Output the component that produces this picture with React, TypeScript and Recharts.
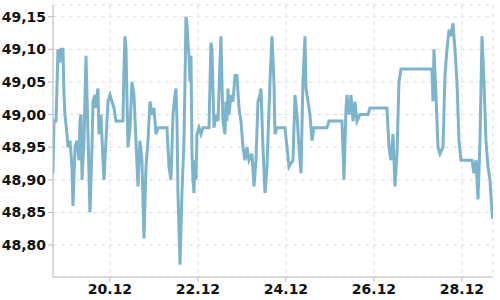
import React from "react";
import { LineChart, Line, XAxis, YAxis, CartesianGrid } from "recharts";

// time in fractional days of December
const times = [
  18.705, 18.727, 18.773, 18.795, 18.818, 18.864, 18.886, 18.932, 18.955, 18.977,
  19.023, 19.045, 19.091, 19.136, 19.159, 19.205, 19.25, 19.295, 19.318, 19.341,
  19.364, 19.409, 19.455, 19.5, 19.545, 19.591, 19.614, 19.659, 19.682, 19.705,
  19.727, 19.75, 19.795, 19.841, 19.864, 19.909, 19.955, 20.0, 20.045, 20.091,
  20.136, 20.295, 20.318, 20.341, 20.364, 20.409, 20.455, 20.5, 20.545, 20.591,
  20.636, 20.682, 20.727, 20.773, 20.818, 20.864, 20.909, 20.955, 21.0, 21.045,
  21.091, 21.295, 21.341, 21.386, 21.432, 21.477, 21.5, 21.523, 21.545, 21.591,
  21.636, 21.682, 21.705, 21.727, 21.75, 21.773, 21.795, 21.818, 21.841, 21.864,
  21.886, 21.909, 21.932, 21.955, 21.977, 22.023, 22.068, 22.114, 22.25, 22.295,
  22.318, 22.364, 22.409, 22.455, 22.5, 22.523, 22.545, 22.568, 22.614, 22.636,
  22.659, 22.682, 22.705, 22.75, 22.795, 22.841, 22.886, 22.932, 22.977, 23.023,
  23.068, 23.114, 23.159, 23.227, 23.273, 23.318, 23.364, 23.409, 23.432, 23.477,
  23.523, 23.568, 23.636, 23.682, 23.727, 23.75, 23.795, 23.977, 24.023, 24.068,
  24.159, 24.205, 24.25, 24.295, 24.341, 24.386, 24.432, 24.455, 24.5, 24.545,
  24.591, 24.636, 24.932, 24.977, 25.273, 25.318, 25.364, 25.386, 25.432, 25.477,
  25.523, 25.568, 25.614, 25.682, 25.864, 25.909, 26.295, 26.341, 26.386, 26.432,
  26.477, 26.523, 26.568, 26.614, 27.318, 27.341, 27.364, 27.409, 27.455, 27.5,
  27.568, 27.614, 27.659, 27.705, 27.75, 27.795, 27.841, 27.886, 27.932, 27.977,
  28.227, 28.273, 28.318, 28.364, 28.409, 28.455, 28.5, 28.545, 28.591, 28.636,
  28.682, 28.705,
];

const rates = [
  48.91, 48.99, 48.99, 49.04, 49.10, 49.08, 49.10, 49.10, 49.03, 49.00,
  48.97, 48.95, 48.96, 48.92, 48.86, 48.95, 48.96, 48.93, 48.99, 49.00,
  48.90, 48.96, 49.09, 48.97, 48.85, 48.95, 49.02, 49.03, 49.01, 49.03,
  49.04, 48.97, 49.00, 48.93, 48.90, 48.96, 49.02, 49.03, 49.02, 49.01,
  48.99, 48.99, 49.07, 49.12, 49.10, 48.95, 48.98, 49.05, 49.03, 48.96,
  48.89, 48.96, 48.93, 48.81, 48.92, 48.96, 49.02, 49.00, 49.01, 48.97,
  48.98, 48.98, 48.92, 48.90, 49.00, 49.03, 49.04, 48.99, 48.88, 48.77,
  48.88, 48.96, 49.05, 49.15, 49.14, 49.11, 49.09, 49.05, 49.09, 48.94,
  48.90, 48.88, 48.93, 48.90, 48.97, 48.98, 48.97, 48.98, 48.98, 49.11,
  49.10, 48.98, 49.00, 48.99, 49.08, 49.12, 49.05, 48.99, 48.97, 49.02,
  48.99, 49.04, 49.00, 49.03, 49.02, 49.06, 49.06, 49.01, 48.99, 48.95,
  48.93, 48.95, 48.93, 48.94, 48.89, 48.93, 49.02, 49.03, 49.04, 48.95,
  48.88, 48.92, 49.05, 49.12, 49.05, 48.97, 48.98, 48.98, 48.95, 48.92,
  48.93, 49.03, 49.00, 48.95, 48.91, 49.05, 49.12, 49.04, 49.02, 49.00,
  48.96, 48.98, 48.98, 48.99, 48.99, 48.90, 49.01, 49.03, 49.00, 49.03,
  48.99, 49.02, 48.99, 49.00, 49.00, 49.01, 49.01, 48.95, 48.93, 48.97,
  48.89, 48.94, 49.05, 49.07, 49.07, 49.02, 49.10, 49.03, 48.95, 48.94,
  48.95, 49.06, 49.10, 49.13, 49.12, 49.14, 49.10, 49.05, 48.96, 48.93,
  48.93, 48.91, 48.93, 48.87, 48.96, 49.12, 49.05, 48.96, 48.92, 48.90,
  48.85, 48.84,
];

const xTicks = [20, 22, 24, 26, 28];
const yTicks = [48.8, 48.85, 48.9, 48.95, 49.0, 49.05, 49.1, 49.15];

const data = times.map((t, i) => ({ t, v: rates[i] }));

const tickStyle = {
  fontFamily: "DejaVu Sans",
  fontSize: 14,
  fontWeight: "bold" as const,
  fill: "#111",
};

export default function App() {
  return (
    <div style={{ position: "absolute", left: 0, top: 0, width: 500, height: 300 }}>
      <LineChart
        width={500}
        height={300}
        data={data}
        margin={{ top: 5, right: 7, bottom: 0, left: 0 }}
      >
        <CartesianGrid stroke="#ddd" strokeDasharray="4 4" />
        <XAxis
          dataKey="t"
          type="number"
          domain={[18.705, 28.705]}
          ticks={xTicks}
          tickFormatter={(d: number) => `${d}.12`}
          height={23}
          stroke="#bbb"
          tickSize={5}
          tickMargin={2}
          tick={tickStyle}
          allowDataOverflow
        />
        <YAxis
          type="number"
          domain={[48.751, 49.168]}
          ticks={yTicks}
          tickFormatter={(v: number) => v.toFixed(2).replace(".", ",")}
          width={53}
          stroke="#bbb"
          tickSize={5}
          tickMargin={2}
          tick={tickStyle}
          allowDataOverflow
        />
        <Line
          dataKey="v"
          type="linear"
          stroke="#7db4cd"
          strokeWidth={3}
          dot={false}
          isAnimationActive={false}
        />
      </LineChart>
    </div>
  );
}
